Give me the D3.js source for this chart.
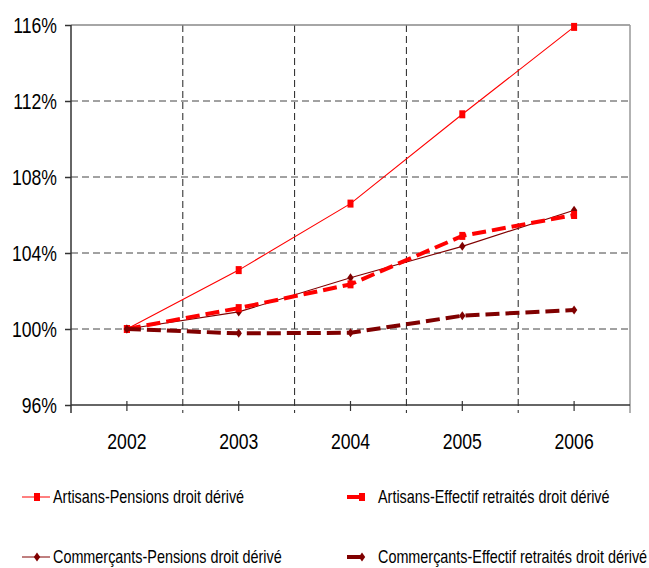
<!DOCTYPE html>
<html><head><meta charset="utf-8">
<script src="https://cdn.jsdelivr.net/npm/d3@7"></script>
<style>
body{margin:0;background:#fff;}
text{font-family:"Liberation Sans",Arial,sans-serif;fill:#000;}
</style></head>
<body><svg id="c" width="649" height="568"></svg>
<script>
const years = ["2002","2003","2004","2005","2006"];
const yTicks = [96,100,104,108,112,116];
const artisansPensions = [100, 103.1, 106.6, 111.3, 115.9];
const artisansEffectif = [100, 101.1, 102.35, 104.9, 106.0];
const commercantsPensions = [100, 100.9, 102.7, 104.35, 106.25];
const commercantsEffectif = [100, 99.77, 99.8, 100.7, 101.0];
const seriesNames = ["Artisans-Pensions droit dérivé","Artisans-Effectif retraités droit dérivé","Commerçants-Pensions droit dérivé","Commerçants-Effectif retraités droit dérivé"];

const series = [
  {name:seriesNames[0], values:artisansPensions, color:"#FF0000", width:1.1, dash:null, marker:"square"},
  {name:seriesNames[1], values:artisansEffectif, color:"#FF0000", width:4, dash:"14,6", marker:"square"},
  {name:seriesNames[2], values:commercantsPensions, color:"#800000", width:1.1, dash:null, marker:"diamond"},
  {name:seriesNames[3], values:commercantsEffectif, color:"#800000", width:4, dash:"14,6", marker:"diamond"}
];

const SX = 0.8; // horizontal condensation of the narrow font
const svg = d3.select("#c");
const L=71, R=630, T=25, B=405;
const x = d3.scaleBand().domain(years).range([L,R]);
const y = d3.scaleLinear().domain([96,116]).range([B,T]);
const cx = d => x(d)+x.bandwidth()/2;

function ntext(g, px, py, str, size, anchor){
  return g.append("text").attr("transform",`translate(${px},${py}) scale(${SX},1)`)
    .attr("text-anchor",anchor||"start").attr("dy","0.35em").style("font-size",size+"px").text(str);
}

// horizontal grid
svg.append("g").selectAll("line").data(yTicks.filter(t=>t>96 && t<116)).join("line")
  .attr("x1",L).attr("x2",R).attr("y1",d=>y(d)).attr("y2",d=>y(d))
  .attr("stroke","#444").attr("stroke-width",1).attr("stroke-dasharray","7,4");
// vertical grid at band boundaries
svg.append("g").selectAll("line").data(years.slice(1)).join("line")
  .attr("x1",d=>x(d)).attr("x2",d=>x(d)).attr("y1",T).attr("y2",B+8)
  .attr("stroke","#222").attr("stroke-width",1).attr("stroke-dasharray","7,4");
// top & right border
svg.append("line").attr("x1",L).attr("x2",R).attr("y1",T).attr("y2",T).attr("stroke","#888").attr("stroke-width",1.5);
svg.append("line").attr("x1",R).attr("x2",R).attr("y1",T).attr("y2",B+8).attr("stroke","#999").attr("stroke-width",1.5);

// y axis
const ya = svg.append("g").attr("transform",`translate(${L},0)`)
  .call(d3.axisLeft(y).tickValues(yTicks).tickFormat("").tickSize(6));
ya.select(".domain").remove();
ya.selectAll(".tick line").attr("stroke","#333").attr("stroke-width",1.5);
yTicks.forEach(t=>ntext(svg, 57, y(t), t+"%", 22, "end"));
svg.append("line").attr("x1",L).attr("x2",L).attr("y1",T).attr("y2",B+8).attr("stroke","#333").attr("stroke-width",1.5);

// x axis
const xa = svg.append("g").attr("transform",`translate(0,${B})`)
  .call(d3.axisBottom(x).tickSize(6).tickFormat(""));
xa.select(".domain").remove();
xa.selectAll(".tick line").attr("stroke","#333").attr("stroke-width",1.2).attr("y1",-4);
years.forEach(d=>ntext(svg, cx(d), 441, d, 22, "middle"));
svg.append("line").attr("x1",L).attr("x2",R).attr("y1",B).attr("y2",B).attr("stroke","#333").attr("stroke-width",1.5);

function marker(g, type, color, px, py){
  if(type==="square"){
    g.append("rect").attr("x",px-3).attr("y",py-4).attr("width",6).attr("height",8).attr("fill",color);
  } else {
    g.append("path").attr("d",`M${px},${py-4.5}L${px+3.2},${py}L${px},${py+4.5}L${px-3.2},${py}Z`).attr("fill",color);
  }
}

const line = d3.line().x((d,i)=>cx(years[i])).y(d=>y(d));
const order = [2,0,1,3];
order.forEach(k=>{
  const s = series[k];
  const g = svg.append("g");
  g.append("path").attr("d",line(s.values)).attr("fill","none")
    .attr("stroke",s.color).attr("stroke-width",s.width)
    .attr("stroke-dasharray",s.dash);
  s.values.forEach((v,i)=>marker(g,s.marker,s.color,cx(years[i]),y(v)));
});

// legend
const legendPos = [{x:22,y:497},{x:347,y:497},{x:22,y:557},{x:347,y:557}];
series.forEach((s,i)=>{
  const p = legendPos[i];
  const g = svg.append("g");
  if(s.width<2){
    g.append("line").attr("x1",p.x).attr("x2",p.x+28).attr("y1",p.y).attr("y2",p.y).attr("stroke",s.color).attr("stroke-width",1);
    marker(g,s.marker,s.color,p.x+15,p.y);
    ntext(g, p.x+31, p.y, s.name, 18);
  } else {
    g.append("line").attr("x1",p.x).attr("x2",p.x+15).attr("y1",p.y).attr("y2",p.y).attr("stroke",s.color).attr("stroke-width",4);
    marker(g,s.marker,s.color,p.x+15,p.y);
    ntext(g, p.x+31, p.y, s.name, 18);
  }
});
</script></body></html>
